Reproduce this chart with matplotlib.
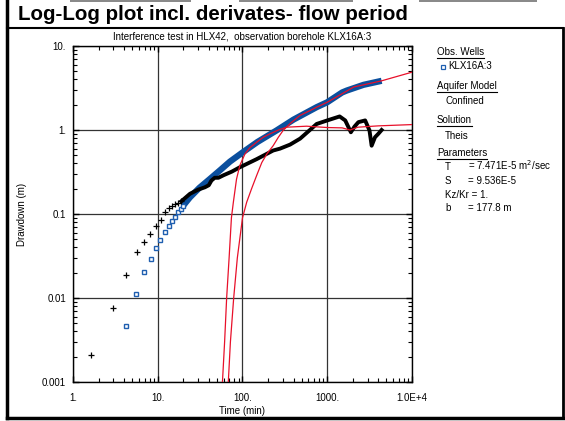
import matplotlib
matplotlib.use("Agg")
import matplotlib.pyplot as plt
from matplotlib.lines import Line2D
from matplotlib.patches import Rectangle
from matplotlib.ticker import LogLocator, FixedLocator, FixedFormatter, NullFormatter

plt.rcParams['font.family'] = ['Liberation Sans', 'DejaVu Sans']

# observed drawdown, early sparse points (squares)
obs_t_early = [4.26, 5.58, 6.88, 8.26, 9.53, 10.7, 12.2, 13.5, 14.7, 16.1, 17.5, 18.8, 20]
obs_s_early = [0.0046, 0.0112, 0.0205, 0.029, 0.039, 0.049, 0.061, 0.072, 0.083, 0.093, 0.105, 0.115, 0.126]
# observed drawdown, dense part
obs_t = [20, 24, 31, 41, 54, 71, 100, 150, 253, 400, 750, 1000, 1500, 1700, 2680, 4380]
obs_s = [0.126, 0.158, 0.205, 0.26, 0.33, 0.42, 0.54, 0.72, 0.99, 1.33, 1.87, 2.14, 2.8, 2.95, 3.45, 3.85]

# derivative, early sparse points (crosses)
der_t_early = [1.63, 2.99, 4.26, 5.64, 6.88, 8.17, 9.6, 10.8, 12.2, 13.6, 14.9, 16.1, 17.5, 19]
der_s_early = [0.0021, 0.0076, 0.0189, 0.0355, 0.047, 0.058, 0.072, 0.085, 0.107, 0.119, 0.126, 0.132, 0.136, 0.142]
# derivative, dense part
der_t = [19, 24, 30, 36, 40, 43, 47, 52, 60, 75, 93, 147, 230, 277, 364, 479, 624, 750, 1000,
         1400, 1630, 1900, 2100, 2330, 2800, 3150, 3340, 3660, 4000, 4380]
der_s = [0.142, 0.174, 0.195, 0.208, 0.22, 0.25, 0.27, 0.27, 0.29, 0.32, 0.36, 0.45, 0.57, 0.6, 0.67, 0.79,
         1.0, 1.18, 1.3, 1.45, 1.3, 0.94, 1.1, 1.24, 1.3, 0.99, 0.65, 0.82, 0.9, 1.0]

# Theis fit
fit_t = [68, 72, 78.7, 86.9, 100, 112, 128, 147, 169, 194, 230, 265, 302, 364, 476, 624, 750, 1000,
         2056, 4380, 10000]
fit_s = [0.001, 0.003, 0.01, 0.03, 0.09, 0.138, 0.2, 0.288, 0.41, 0.52, 0.65, 0.82, 0.99, 1.19, 1.49, 1.7,
         1.87, 2.14, 3.25, 3.85, 4.88]
fitd_t = [58, 61.5, 65, 69.5, 74, 78, 85, 93, 107, 123, 147, 176, 211, 265, 331, 570, 1000, 1500, 1860,
          2300, 4000, 10000]
fitd_s = [0.001, 0.003, 0.01, 0.03, 0.09, 0.138, 0.26, 0.378, 0.52, 0.62, 0.716, 0.82, 0.9, 1.0, 1.08,
          1.11, 1.07, 1.06, 1.0, 1.08, 1.12, 1.16]

x_ticks = [1, 10, 100, 1000, 10000]
x_labels = ['1.', '10.', '100.', '1000.', '1.0E+4']
y_ticks = [0.001, 0.01, 0.1, 1, 10]
y_labels = ['0.001', '0.01', '0.1', '1.', '10.']

W, H = 565, 421
fig = plt.figure(figsize=(W / 100, H / 100), dpi=100)


def fx(x):
    return x / W


def fy(y):
    return 1 - y / H


ax = fig.add_axes([fx(73), fy(382), (412 - 73) / W, (382 - 46) / H])
ax.set_xscale('log')
ax.set_yscale('log')
ax.set_xlim(1, 10000)
ax.set_ylim(0.001, 10)

blue = '#0b4f9e'
ax.plot(obs_t, obs_s, color=blue, lw=4.5, solid_capstyle='butt', zorder=2)
ax.plot(obs_t_early, obs_s_early, ls='none', marker='s', ms=3.2, mfc='white', mec='#1f5fb0', mew=1.0, zorder=2)
ax.plot(der_t, der_s, color='black', lw=2.8, zorder=2)
ax.plot(der_t_early, der_s_early, ls='none', marker='+', ms=4.5, mec='black', mew=0.9, zorder=2)
ax.plot(fit_t, fit_s, color='#e8102a', lw=0.9, zorder=3)
ax.plot(fitd_t, fitd_s, color='#e8102a', lw=0.9, zorder=3)

ax.xaxis.set_major_locator(FixedLocator(x_ticks))
ax.xaxis.set_major_formatter(FixedFormatter(x_labels))
ax.yaxis.set_major_locator(FixedLocator(y_ticks))
ax.yaxis.set_major_formatter(FixedFormatter(y_labels))
ax.xaxis.set_minor_locator(LogLocator(base=10, subs=range(2, 10)))
ax.yaxis.set_minor_locator(LogLocator(base=10, subs=range(2, 10)))
ax.xaxis.set_minor_formatter(NullFormatter())
ax.yaxis.set_minor_formatter(NullFormatter())
ax.tick_params(which='both', direction='in', top=True, right=True, labelsize=7, color='black')
ax.tick_params(which='major', length=4, width=1, pad=5)
ax.tick_params(axis='x', which='major', pad=8)
ax.tick_params(which='minor', length=3, width=0.8)
ax.grid(True, which='major', color='#333333', lw=0.9)
for sp in ax.spines.values():
    sp.set_linewidth(1)

ax.set_xlabel('Time (min)', fontsize=7, labelpad=2)
ax.set_ylabel('Drawdown (m)', fontsize=7, labelpad=11)
ax.set_title('Interference test in HLX42,  observation borehole KLX16A:3', fontsize=7, pad=5)

# frame: left, bottom, right lines, title separator, grey tabs on top
frame_lines = [([7, 7], [0, 418], 2.5), ([7, 563], [418, 418], 2.5),
               ([563, 563], [28, 418], 2.0), ([7, 563], [28, 28], 1.5)]
for xs, ys, lw in frame_lines:
    fig.add_artist(Line2D([fx(v) for v in xs], [fy(v) for v in ys], transform=fig.transFigure,
                          color='black', lw=lw))
for x0, x1 in [(70, 191), (239, 353), (419, 537)]:
    fig.add_artist(Rectangle((fx(x0), fy(2)), (x1 - x0) / W, 2 / H, transform=fig.transFigure,
                             color='#8a8a8a', lw=0))
fig.text(fx(18), fy(15), 'Log-Log plot incl. derivates- flow period', fontsize=14.8, fontweight='bold',
         va='center', ha='left')

# side panel
fig.canvas.draw()
renderer = fig.canvas.get_renderer()


def header(x, y, s):
    t = fig.text(fx(x), fy(y), s, fontsize=7, va='baseline', ha='left')
    bb = t.get_window_extent(renderer)
    fig.add_artist(Line2D([bb.x0 / W, bb.x1 / W], [fy(y + 3), fy(y + 3)], transform=fig.transFigure,
                          color='black', lw=0.8))


def item(x, y, s):
    fig.text(fx(x), fy(y), s, fontsize=7, va='baseline', ha='left')


header(437, 55, 'Obs. Wells')
fig.add_artist(Line2D([fx(443)], [fy(67)], transform=fig.transFigure, marker='s', ms=2.5,
                      mfc='white', mec='#1f5fb0', mew=0.9, ls='none'))
item(448, 69, 'KLX16A:3')
header(437, 89, 'Aquifer Model')
item(445, 104, 'Confined')
header(437, 123, 'Solution')
item(445, 139, 'Theis')
header(437, 156, 'Parameters')
item(445, 170, 'T')
item(468, 170, '= 7.471E-5 m$^2$/sec')
item(445, 184, 'S')
item(468, 184, '= 9.536E-5')
item(445, 198, 'Kz/Kr = 1.')
item(445, 211, 'b')
item(468, 211, '= 177.8 m')

fig.savefig('out.png', dpi=100)
